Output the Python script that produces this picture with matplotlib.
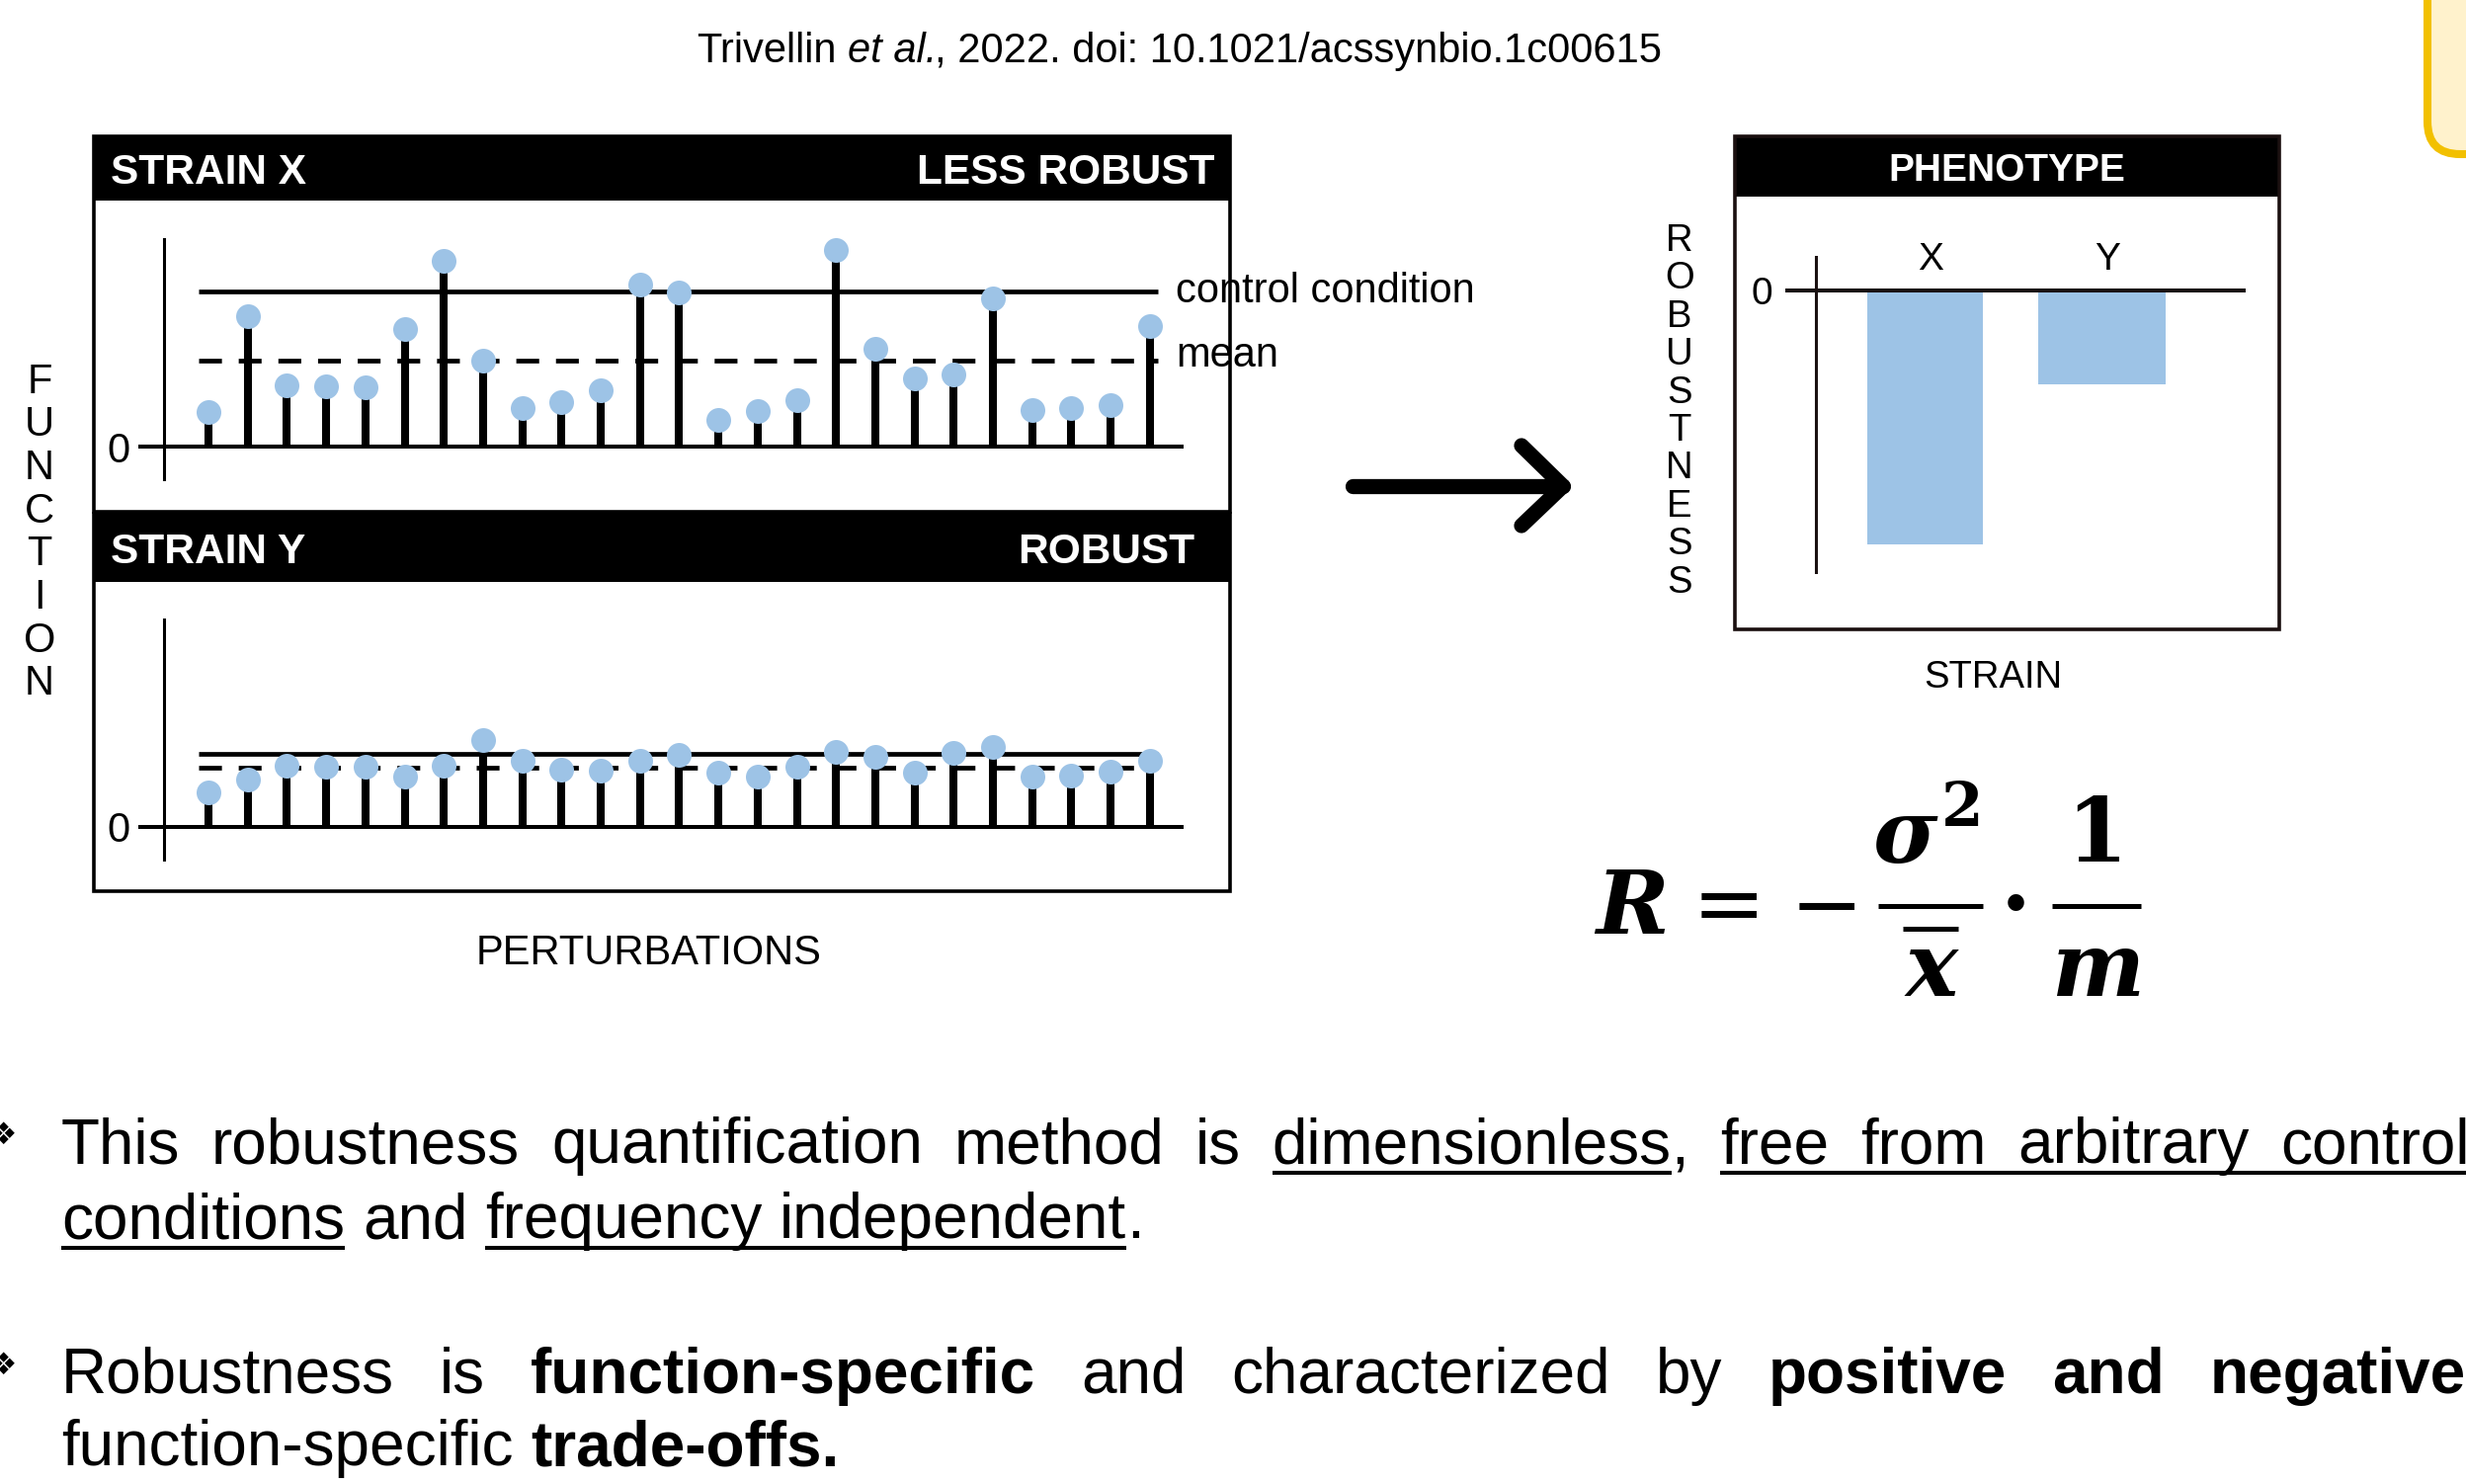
import numpy as np
import matplotlib
matplotlib.use("Agg")
import matplotlib.pyplot as plt
from matplotlib.patches import Rectangle, FancyBboxPatch
from matplotlib import transforms

# ---------------- data ----------------
perturbations = np.arange(25)
strain_x_values = [2.23, 8.40, 3.98, 3.89, 3.83, 7.60, 11.98, 5.57, 2.49, 2.87,
                   3.62, 10.47, 9.94, 1.70, 2.28, 2.98, 12.70, 6.32, 4.40, 4.68,
                   9.57, 2.34, 2.49, 2.66, 7.77]
strain_y_values = [2.21, 3.06, 3.97, 3.90, 3.86, 3.23, 3.97, 5.61, 4.29, 3.69,
                   3.65, 4.29, 4.67, 3.48, 3.23, 3.86, 4.82, 4.54, 3.48, 4.78,
                   5.18, 3.27, 3.33, 3.55, 4.25]
control_x, mean_x = 10.0, 5.53
control_y, mean_y = 4.71, 3.82
phenotype_strains = ["X", "Y"]
robustness_values = [-2.57, -0.95]

citation_runs = [("Trivellin", "normal"), (" ", "normal"), ("et al.", "italic"),
                 (", 2022. doi: 10.1021/acssynbio.1c00615", "normal")]

# bullet lines: words -> pieces (text, bold, underline group)
bullet1_line1 = [[("This", 0, 0)], [("robustness", 0, 0)], [("quantification", 0, 0)],
                 [("method", 0, 0)], [("is", 0, 0)],
                 [("dimensionless", 0, 1), (",", 0, 0)],
                 [("free", 0, 2)], [("from", 0, 2)], [("arbitrary", 0, 2)], [("control", 0, 2)]]
bullet1_line2 = [[("conditions", 0, 3)], [("and", 0, 0)], [("frequency", 0, 4)],
                 [("independent", 0, 4), (".", 0, 0)]]
bullet2_line1 = [[("Robustness", 0, 0)], [("is", 0, 0)], [("function-specific", 1, 0)],
                 [("and", 0, 0)], [("characterized", 0, 0)], [("by", 0, 0)],
                 [("positive", 1, 0)], [("and", 1, 0)], [("negative", 1, 0)]]
bullet2_line2 = [[("function-specific", 0, 0)], [("trade-offs.", 1, 0)]]

# ---------------- setup ----------------
W, H, DPI = 2496, 1502, 100
BLUE = "#9DC3E6"
plt.rcParams["font.family"] = ["Liberation Sans", "DejaVu Sans"]

fig = plt.figure(figsize=(W / DPI, H / DPI), dpi=DPI)
fig.patch.set_facecolor("white")

bg = fig.add_axes([0, 0, 1, 1])
bg.set_xlim(0, W)
bg.set_ylim(H, 0)
bg.axis("off")
bg.set_zorder(5)


def px_axes(l, t, r, b):
    ax = fig.add_axes([l / W, 1 - b / H, (r - l) / W, (b - t) / H])
    ax.set_facecolor("none")
    ax.axis("off")
    return ax


# ---------------- strain panels ----------------
X0, DX, UNIT = 211, 39.7, 15.7


def strain_panel(base_px, values, control, mean, show_labels):
    ax = px_axes(140, base_px - 211, 1198, base_px + 35)
    ax.set_xlim((140 - X0) / DX, (1198 - X0) / DX)
    ax.set_ylim(-35 / UNIT, 211 / UNIT)
    ax.axhline(0, color="k", lw=2.9, zorder=2)
    ax.axvline((166 - X0) / DX, color="k", lw=2.2, zorder=2)
    ls, le = (201 - X0) / DX, (1172 - X0) / DX
    ax.plot([ls, le], [control, control], color="k", lw=3.4, solid_capstyle="butt", zorder=2)
    ax.plot([ls, le], [mean, mean], color="k", lw=3.4, ls=(0, (4.9, 3.6)),
            dash_capstyle="butt", zorder=2)
    ax.vlines(perturbations, 0, values, color="k", lw=5.8, zorder=3)
    ax.plot(perturbations, values, "o", ms=18, mfc=BLUE, mec="none", zorder=4)
    ax.text((120 - X0) / DX, 0, "0", ha="center", va="center_baseline", fontsize=30)
    if show_labels:
        tx = (1190 - X0) / DX
        ax.text(tx, control, "control condition", fontsize=30, ha="left", va="baseline",
                transform=transforms.offset_copy(ax.transData, fig, x=0, y=-11, units="dots"))
        ax.text(tx, mean, "mean", fontsize=30, ha="left", va="baseline",
                transform=transforms.offset_copy(ax.transData, fig, x=0, y=-6, units="dots"))
    return ax


strain_panel(452, strain_x_values, control_x, mean_x, True)
strain_panel(837, strain_y_values, control_y, mean_y, False)

# ---------------- phenotype panel ----------------
CX0, CDX, PUNIT, ZERO = 1948.5, 179, 100, 294
axp = px_axes(1807, 259, 2273, 581)
axp.set_xlim((1807 - CX0) / CDX, (2273 - CX0) / CDX)
axp.set_ylim((ZERO - 581) / PUNIT, (ZERO - 259) / PUNIT)
pos = np.arange(len(phenotype_strains))
axp.bar(pos, robustness_values, width=[0.654, 0.72], color=BLUE, zorder=1)
axp.axhline(0, color="#1a1010", lw=2.9, zorder=3)
axp.axvline((1838 - CX0) / CDX, color="#1a1010", lw=2.2, zorder=3)
for p, s in zip(pos, phenotype_strains):
    axp.text(p + 0.03, (ZERO - 259) / PUNIT, s, ha="center", va="center_baseline", fontsize=28)
axp.text((1783 - CX0) / CDX, 0, "0", ha="center", va="center_baseline", fontsize=28)

# ---------------- frames & headers ----------------
def panel_frame(l, t, r, b, hb, ec="k"):
    bg.add_patch(Rectangle((l, t), r - l, hb - t, facecolor="black", edgecolor="none", zorder=3))
    bg.add_patch(Rectangle((l, t), r - l, b - t, facecolor="none", edgecolor=ec, lw=2.6, zorder=6))


panel_frame(95, 138, 1245, 518, 203)
panel_frame(95, 520, 1245, 902, 589)
panel_frame(1756, 138, 2307, 637, 199, ec="#1a0f0f")

bg.text(112, 170, "STRAIN X", color="white", fontsize=30.5, weight="bold", ha="left", va="center_baseline", zorder=7)
bg.text(1229, 170, "LESS ROBUST", color="white", fontsize=30.5, weight="bold", ha="right", va="center_baseline", zorder=7)
bg.text(112, 554, "STRAIN Y", color="white", fontsize=30.5, weight="bold", ha="left", va="center_baseline", zorder=7)
bg.text(1209, 554, "ROBUST", color="white", fontsize=30.5, weight="bold", ha="right", va="center_baseline", zorder=7)
bg.text(2031, 169, "PHENOTYPE", color="white", fontsize=28, weight="bold", ha="center", va="center_baseline", zorder=7)

for i, ch in enumerate("FUNCTION"):
    bg.text(40, 382 + i * 43.7, ch, fontsize=30, ha="center", va="center_baseline")
for i, ch in enumerate("ROBUSTNESS"):
    bg.text(1700, 240 + i * 38.4, ch, fontsize=27.5, ha="center", va="center_baseline")

bg.text(657, 960, "PERTURBATIONS", fontsize=30, ha="center", va="center_baseline")
bg.text(2017, 682, "STRAIN", fontsize=27.5, ha="center", va="center_baseline")

# ---------------- arrow ----------------
bg.plot([1369, 1582], [492, 492], color="k", lw=11, solid_capstyle="round")
bg.plot([1540, 1582, 1540], [451, 492, 532], color="k", lw=11,
        solid_capstyle="round", solid_joinstyle="round")

# ---------------- yellow box (top right) ----------------
bg.add_patch(FancyBboxPatch((2457, -200), 300, 356, boxstyle="round,pad=0,rounding_size=33",
                            facecolor="#FFF2CC", edgecolor="#F2C000", lw=5.8, zorder=2))

# ---------------- measuring helpers ----------------
renderer = fig.canvas.get_renderer()


def text_w(s, **kw):
    t = bg.text(0, 0, s, **kw)
    w = t.get_window_extent(renderer).width
    t.remove()
    return w


# ---------------- citation ----------------
CFS = 30
cem = CFS * DPI / 72
widths = []
for s, st in citation_runs:
    widths.append(0.278 * cem if s == " " else text_w(s, fontsize=CFS, style=st))
total = sum(widths)
cx = 1195 - total / 2
for (s, st), w in zip(citation_runs, widths):
    if s != " ":
        bg.text(cx, 63, s, fontsize=CFS, style=st, ha="left", va="baseline")
    cx += w - (3 if st == "italic" else 0)

# ---------------- formula ----------------
FF = "DejaVu Serif"
FS = 64
bi = dict(family=FF, weight="bold", style="italic", fontsize=FS, ha="center", va="baseline")
bu = dict(family=FF, weight="bold", fontsize=FS, ha="center", va="baseline")
nu = dict(family=FF, weight="normal", fontsize=FS, ha="center", va="baseline")
bg.text(1652, 945, "R", **bi)
bg.text(1750, 945, "=", **nu)
bg.text(1849, 945, "\u2212", **nu)
bg.plot([1901, 2007], [917, 917], color="k", lw=3.6, solid_capstyle="butt")
bg.text(1928, 873, "\u03c3", **bi)
bg.text(1986, 836, "2", **dict(bu, fontsize=44))
bg.plot([1926, 1982], [940, 940], color="k", lw=3.6, solid_capstyle="butt")
bg.text(1955, 1008, "x", **bi)
bg.text(2040, 945, "\u00b7", **bu)
bg.plot([2077, 2167], [917, 917], color="k", lw=3.6, solid_capstyle="butt")
bg.text(2122, 872, "1", **bu)
bg.text(2123, 1008, "m", **bi)

# ---------------- bullets ----------------
BFS = 46
bem = BFS * DPI / 72
SPACE = 0.278 * bem
PGAP = 0.0


def draw_line(words, x0, base, justify_to=None):
    wws = []
    for word in words:
        pw = [text_w(t, fontsize=BFS, weight="bold" if b else "normal") for t, b, u in word]
        wws.append((pw, sum(pw) + PGAP * (len(pw) - 1)))
    tot = sum(w for _, w in wws)
    gap = SPACE if justify_to is None else (justify_to - x0 - tot) / (len(words) - 1)
    groups = {}
    x = x0
    for word, (pw, ww) in zip(words, wws):
        px = x
        for (t, b, u), w in zip(word, pw):
            bg.text(px, base, t, fontsize=BFS, weight="bold" if b else "normal",
                    ha="left", va="baseline", clip_on=False)
            if u:
                s, e = groups.get(u, (px, px + w))
                groups[u] = (min(s, px), max(e, px + w))
            px += w + PGAP
        x += ww + gap
    for s, e in groups.values():
        bg.plot([s, e], [base + 10, base + 10], color="k", lw=2.9, solid_capstyle="butt")


draw_line(bullet1_line1, 62, 1177, justify_to=2500)
draw_line(bullet1_line2, 62, 1253)
draw_line(bullet2_line1, 62, 1410, justify_to=2496)
draw_line(bullet2_line2, 62, 1483)

for yb in (1177, 1410):
    bg.text(3, yb - 28, "\u2756", family=["DejaVu Sans"], fontsize=22, ha="center", va="center")

fig.savefig("out.png", dpi=DPI, facecolor="white")
